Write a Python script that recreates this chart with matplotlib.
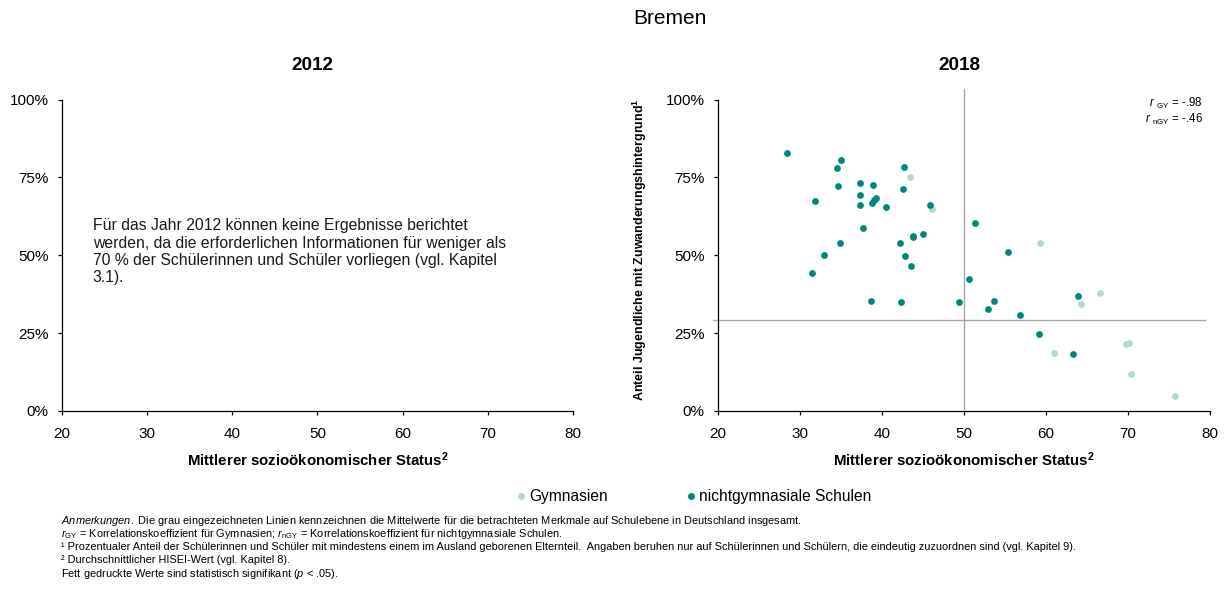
import matplotlib
matplotlib.use("Agg")
import matplotlib.pyplot as plt
from matplotlib.lines import Line2D

plt.rcParams['font.family'] = ['Liberation Sans', 'DejaVu Sans']
plt.rcParams['mathtext.fontset'] = 'custom'
plt.rcParams['mathtext.rm'] = 'Liberation Sans'
plt.rcParams['mathtext.it'] = 'Liberation Sans:italic'
plt.rcParams['mathtext.bf'] = 'Liberation Sans:bold'

# ---------------- data ----------------
state = "Bremen"
years = ["2012", "2018"]
x_ticks = [20, 30, 40, 50, 60, 70, 80]
y_ticks = [0, 25, 50, 75, 100]
y_ticklabels = ["0%", "25%", "50%", "75%", "100%"]

# Gymnasien (2018): mean socio-economic status, share with migration background (%)
gym_x = [43.39, 46.08, 59.31, 66.53, 64.29, 60.94, 69.76, 70.12, 70.37, 75.71]
gym_y = [75.05, 64.8, 53.9, 37.9, 34.5, 18.5, 21.5, 21.9, 11.8, 4.7]

# nichtgymnasiale Schulen (2018)
ngy_x = [28.45, 34.98, 34.57, 42.65, 34.65, 37.27, 38.90, 42.57, 31.84, 37.27,
         39.31, 39.06, 38.73, 37.35, 40.49, 45.80, 51.31, 37.71, 43.76, 43.84,
         44.98, 42.24, 34.86, 32.98, 42.78, 43.51, 31.47, 50.61, 38.61, 42.29,
         49.43, 55.31, 63.96, 53.71, 52.94, 56.82, 59.10, 63.35]
ngy_y = [83.0, 80.6, 77.9, 78.2, 72.3, 73.3, 72.6, 71.3, 67.5, 69.4,
         68.3, 67.8, 66.7, 66.2, 65.6, 66.3, 60.3, 58.8, 56.3, 56.0,
         57.0, 53.9, 54.1, 50.1, 49.8, 46.5, 44.3, 42.4, 35.2, 34.9,
         34.9, 50.9, 36.8, 35.2, 32.7, 30.7, 24.8, 18.3]

# German means (reference lines)
mean_x = 50.0
mean_y = 29.2

r_gy = "-.98"
r_ngy = "-.46"

note_2012 = ("Für das Jahr 2012 können keine Ergebnisse berichtet\n"
             "werden, da die erforderlichen Informationen für weniger als\n"
             "70 % der Schülerinnen und Schüler vorliegen (vgl. Kapitel\n"
             "3.1).")

col_gym = '#b3d9d5'
col_ngy = '#00877a'
col_ref = '#a6a6a6'

W, H = 1232, 598
fig = plt.figure(figsize=(W / 100, H / 100), dpi=100)

def fx(px):
    return px / W

def fy(py):
    return 1 - py / H

ytop = 103.5
ax_bottom_px = 411
ax_top_px = 411 - ytop * 3.114

axes = []
for x0, x1 in [(62, 573), (718, 1210)]:
    ax = fig.add_axes([fx(x0), fy(ax_bottom_px), fx(x1 - x0), (ax_bottom_px - ax_top_px) / H])
    ax.set_xlim(20, 80)
    ax.set_ylim(0, ytop)
    for s in ['top', 'right']:
        ax.spines[s].set_visible(False)
    ax.spines['left'].set_bounds(0, 100)
    ax.spines['left'].set_linewidth(0.9)
    ax.spines['bottom'].set_linewidth(0.9)
    ax.set_xticks(x_ticks)
    ax.set_yticks(y_ticks)
    ax.set_yticklabels(y_ticklabels)
    ax.tick_params(direction='out', length=3, width=0.9, labelsize=11, color='black')
    ax.tick_params(axis='x', pad=8.5)
    ax.tick_params(axis='y', pad=6.5)
    ax.set_xlabel(r"Mittlerer sozioökonomischer Status$^{\mathbf{2}}$", fontsize=10.8,
                  fontweight='bold', labelpad=7)
    axes.append(ax)

ax1, ax2 = axes
ax1.text(0.06, 0.598, note_2012, transform=ax1.transAxes, fontsize=11.3, va='top',
         ha='left', linespacing=1.2, color='#1a1a1a')

# reference lines
ax2.axvline(mean_x, color=col_ref, lw=1.0, zorder=1)
ax2.axhline(mean_y, xmin=-0.011, xmax=0.99, color=col_ref, lw=1.0, zorder=1, clip_on=False)

ax2.scatter(gym_x, gym_y, s=24, color=col_gym, zorder=2, linewidths=0)
ax2.scatter(ngy_x, ngy_y, s=24, color=col_ngy, zorder=3, linewidths=0)

ax2.set_ylabel(r"Anteil Jugendliche mit Zuwanderungshintergrund$^{\mathbf{1}}$",
               fontsize=9, fontweight='bold', labelpad=12)

ax2.text(0.985, 0.955, r"$\it{r}$ $_{\rm GY}$ = " + r_gy, transform=ax2.transAxes,
         ha='right', va='center', fontsize=8.3)
ax2.text(0.985, 0.905, r"$\it{r}$ $_{\rm nGY}$ = " + r_ngy, transform=ax2.transAxes,
         ha='right', va='center', fontsize=8.3)

# titles
fig.text(fx(670), fy(18), state, ha='center', va='center', fontsize=15)
fig.text(fx(312), fy(66), years[0], ha='center', va='center', fontsize=13.6, fontweight='bold')
fig.text(fx(959), fy(66), years[1], ha='center', va='center', fontsize=13.6, fontweight='bold')

# legend
handles = [Line2D([], [], marker='o', ls='', color=col_gym, markersize=4),
           Line2D([], [], marker='o', ls='', color=col_ngy, markersize=4)]
fig.legend(handles, ["Gymnasien", "nichtgymnasiale Schulen"], ncol=2, frameon=False,
           loc='center', bbox_to_anchor=(fx(694), fy(497)), fontsize=11.2,
           handlelength=0.6, handletextpad=0.25, columnspacing=5.0)

# footnotes
fs = 7.9
notes = [
    (521, r"$\it{Anmerkungen.}$ Die grau eingezeichneten Linien kennzeichnen die Mittelwerte für die betrachteten Merkmale auf Schulebene in Deutschland insgesamt."),
    (534, r"$\it{r}$$_{\rm GY}$ = Korrelationskoeffizient für Gymnasien; $\it{r}$$_{\rm nGY}$ = Korrelationskoeffizient für nichtgymnasiale Schulen."),
    (547, "\u00b9 Prozentualer Anteil der Schülerinnen und Schüler mit mindestens einem im Ausland geborenen Elternteil.  Angaben beruhen nur auf Schülerinnen und Schülern, die eindeutig zuzuordnen sind (vgl. Kapitel 9)."),
    (560, "\u00b2 Durchschnittlicher HISEI-Wert (vgl. Kapitel 8)."),
    (574, r"Fett gedruckte Werte sind statistisch signifikant ($\it{p}$ < .05)."),
]
for py, t in notes:
    fig.text(fx(61), fy(py), t, ha='left', va='center', fontsize=fs)

fig.savefig("out.png", dpi=100, facecolor='white')
